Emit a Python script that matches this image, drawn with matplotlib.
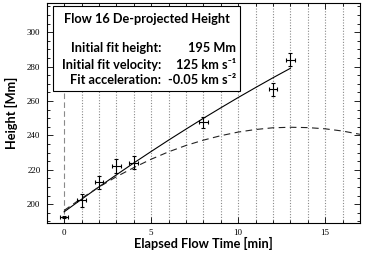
import matplotlib
matplotlib.use("Agg")
import matplotlib.pyplot as plt
from matplotlib.patches import Rectangle
from matplotlib.ticker import MultipleLocator

# measured heights (Mm) vs elapsed time (min)
t_obs = [0.0, 1.0, 2.0, 3.0, 4.0, 8.0, 12.0, 13.0]
h_obs = [192.6, 202.3, 212.6, 222.1, 224.2, 247.5, 266.7, 284.1]
h_err = [0.5, 3.8, 4.0, 4.0, 3.8, 3.4, 3.8, 4.0]
t_err = [0.25, 0.25, 0.25, 0.25, 0.25, 0.25, 0.25, 0.25]

# fit curve (solid)
t_fit = [0, 1, 2, 3, 4, 5, 6, 7, 8, 9, 10, 11, 12, 13]
h_fit = [195.5, 202.8, 210.0, 217.0, 223.9, 230.6, 237.2, 243.6, 249.9,
         256.0, 262.0, 267.8, 273.5, 279.0]

# dashed curve
t_dash = [0, 1, 2, 3, 4, 5, 6, 7, 8, 9, 10, 11, 12, 13, 14, 15, 16, 17]
h_dash = [196.3, 203.4, 209.9, 215.9, 221.2, 226.1, 230.4, 234.1, 237.2,
          239.8, 241.9, 243.4, 244.4, 244.7, 244.5, 243.8, 242.5, 240.6]

grid_t = [1, 2, 3, 4, 5, 6, 7, 8, 9, 10, 11, 12, 13, 14, 15, 16]

title = "Flow 16 De-projected Height"
rows = [("Initial fit height:", "195 Mm"),
        ("Initial fit velocity:", "125 km s\u207b\u00b9"),
        ("Fit acceleration:", "-0.05 km s\u207b\u00b2")]

W, H = 374, 254
fam = ["Lato", "DejaVu Sans"]
fs = 9.2

fig = plt.figure(figsize=(W / 100, H / 100), dpi=100)
ax = fig.add_axes([46.7 / W, 1 - 223 / H, (360 - 46.7) / W, 220 / H])

for g in grid_t:
    ax.axvline(g, color="#8a8a8a", lw=0.8, ls=(0, (1, 1.5)), zorder=1)
ax.axvline(0, color="#8a8a8a", lw=0.8, ls=(0, (5, 3)), zorder=1)

ax.plot(t_fit, h_fit, color="black", lw=0.8, zorder=3)
ax.plot(t_dash, h_dash, color="#222222", lw=0.8, ls=(0, (6, 4)), zorder=3)
ax.errorbar(t_obs, h_obs, yerr=h_err, xerr=t_err, fmt="none", ecolor="black",
            elinewidth=0.8, capsize=1.6, capthick=0.8, zorder=4)

ax.set_xlim(-1, 17)
ax.set_ylim(189, 317)
ax.xaxis.set_major_locator(MultipleLocator(5))
ax.xaxis.set_minor_locator(MultipleLocator(1))
ax.yaxis.set_major_locator(MultipleLocator(20))
ax.yaxis.set_minor_locator(MultipleLocator(5))
ax.tick_params(which="both", direction="in", top=True, right=True, width=0.6)
ax.tick_params(which="major", length=4, labelsize=6.5, pad=4.5)
ax.tick_params(which="minor", length=2)
for lab in ax.get_xticklabels() + ax.get_yticklabels():
    lab.set_family("Liberation Serif")
for s in ax.spines.values():
    s.set_linewidth(0.8)

ax.set_xlabel("Elapsed Flow Time [min]", family=fam, fontweight="bold",
              fontsize=fs, va="center")
ax.xaxis.set_label_coords(0.5, -0.091)
ax.set_ylabel("Height [Mm]", family=fam, fontweight="bold", fontsize=fs,
              va="center")
ax.yaxis.set_label_coords((11 - 46.7) / 313.3, 0.5)

# info box, figure pixel coords
def fx(x):
    return x / W

def fy(y):
    return 1 - y / H

box = Rectangle((fx(53.3), fy(90.7)), fx(240) - fx(53.3), fy(6) - fy(90.7),
                transform=fig.transFigure, facecolor="white",
                edgecolor="black", lw=0.8, zorder=5)
fig.patches.append(box)
fig.text(fx(146.5), fy(19), title, family=fam, fontweight="bold",
         fontsize=fs, ha="center", va="center", zorder=6)
ys = [48.3, 65.3, 80.5]
for (lab, val), y in zip(rows, ys):
    fig.text(fx(161.5), fy(y), lab, family=fam, fontweight="bold",
             fontsize=fs, ha="right", va="center", zorder=6)
    fig.text(fx(236), fy(y), val, family=fam, fontweight="bold",
             fontsize=fs, ha="right", va="center", zorder=6)

fig.savefig("out.png", dpi=100)
